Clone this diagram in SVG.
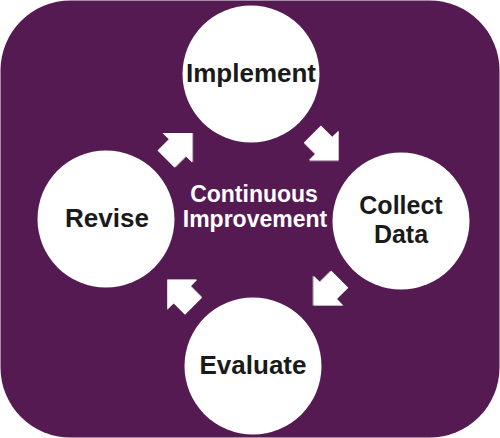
<svg xmlns="http://www.w3.org/2000/svg" width="500" height="438" viewBox="0 0 500 438">
  <style>
    .node { fill: #ffffff; }
    .lbl { font-family: "Liberation Sans", Arial, sans-serif; font-weight: bold; font-size: 26px; fill: #1a1a1a; text-anchor: middle; }
    .lbl2 { font-size: 25px; }
    .center { font-family: "Liberation Sans", Arial, sans-serif; font-weight: bold; font-size: 23px; fill: #ffffff; text-anchor: middle; }
    .arrow { fill: #ffffff; }
    .arrow-shadow { fill: #b9a9b8; }
  </style>
  <defs>
    <path id="blockArrow" d="M-18.5,-12 L-2.5,-12 L-2.5,-21 L18.5,0 L-2.5,21 L-2.5,12 L-18.5,12 Z"/>
  </defs>
  <rect id="frame" x="0.5" y="0.5" width="499" height="437" rx="70" ry="70" fill="#561a52"/>

  <g id="connectors">
    <g transform="translate(179,146) rotate(-45)">
      <use href="#blockArrow" class="arrow-shadow" x="0.8" y="0.8"/>
      <use href="#blockArrow" class="arrow"/>
    </g>
    <g transform="translate(325.5,147) rotate(45)">
      <use href="#blockArrow" class="arrow-shadow" x="0.8" y="0.8"/>
      <use href="#blockArrow" class="arrow"/>
    </g>
    <g transform="translate(326.8,292.3) rotate(135)">
      <use href="#blockArrow" class="arrow-shadow" x="0.8" y="0.8"/>
      <use href="#blockArrow" class="arrow"/>
    </g>
    <g transform="translate(180.4,293.2) rotate(-135)">
      <use href="#blockArrow" class="arrow-shadow" x="0.8" y="0.8"/>
      <use href="#blockArrow" class="arrow"/>
    </g>
  </g>

  <g id="implement">
    <circle class="node" cx="251" cy="74" r="68.5"/>
    <text class="lbl" x="251" y="82">Implement</text>
  </g>
  <g id="collect-data">
    <circle class="node" cx="401" cy="221" r="68.5"/>
    <text class="lbl lbl2"><tspan x="401" y="213.5">Collect</tspan><tspan x="401" y="242.5">Data</tspan></text>
  </g>
  <g id="evaluate">
    <circle class="node" cx="253" cy="366" r="68.5"/>
    <text class="lbl" x="253" y="374">Evaluate</text>
  </g>
  <g id="revise">
    <circle class="node" cx="106" cy="219" r="68.5"/>
    <text class="lbl" x="107" y="227">Revise</text>
  </g>
  <g id="continuous-improvement">
    <text class="center"><tspan x="254" y="202">Continuous</tspan><tspan x="255" y="227">Improvement</tspan></text>
  </g>
</svg>
